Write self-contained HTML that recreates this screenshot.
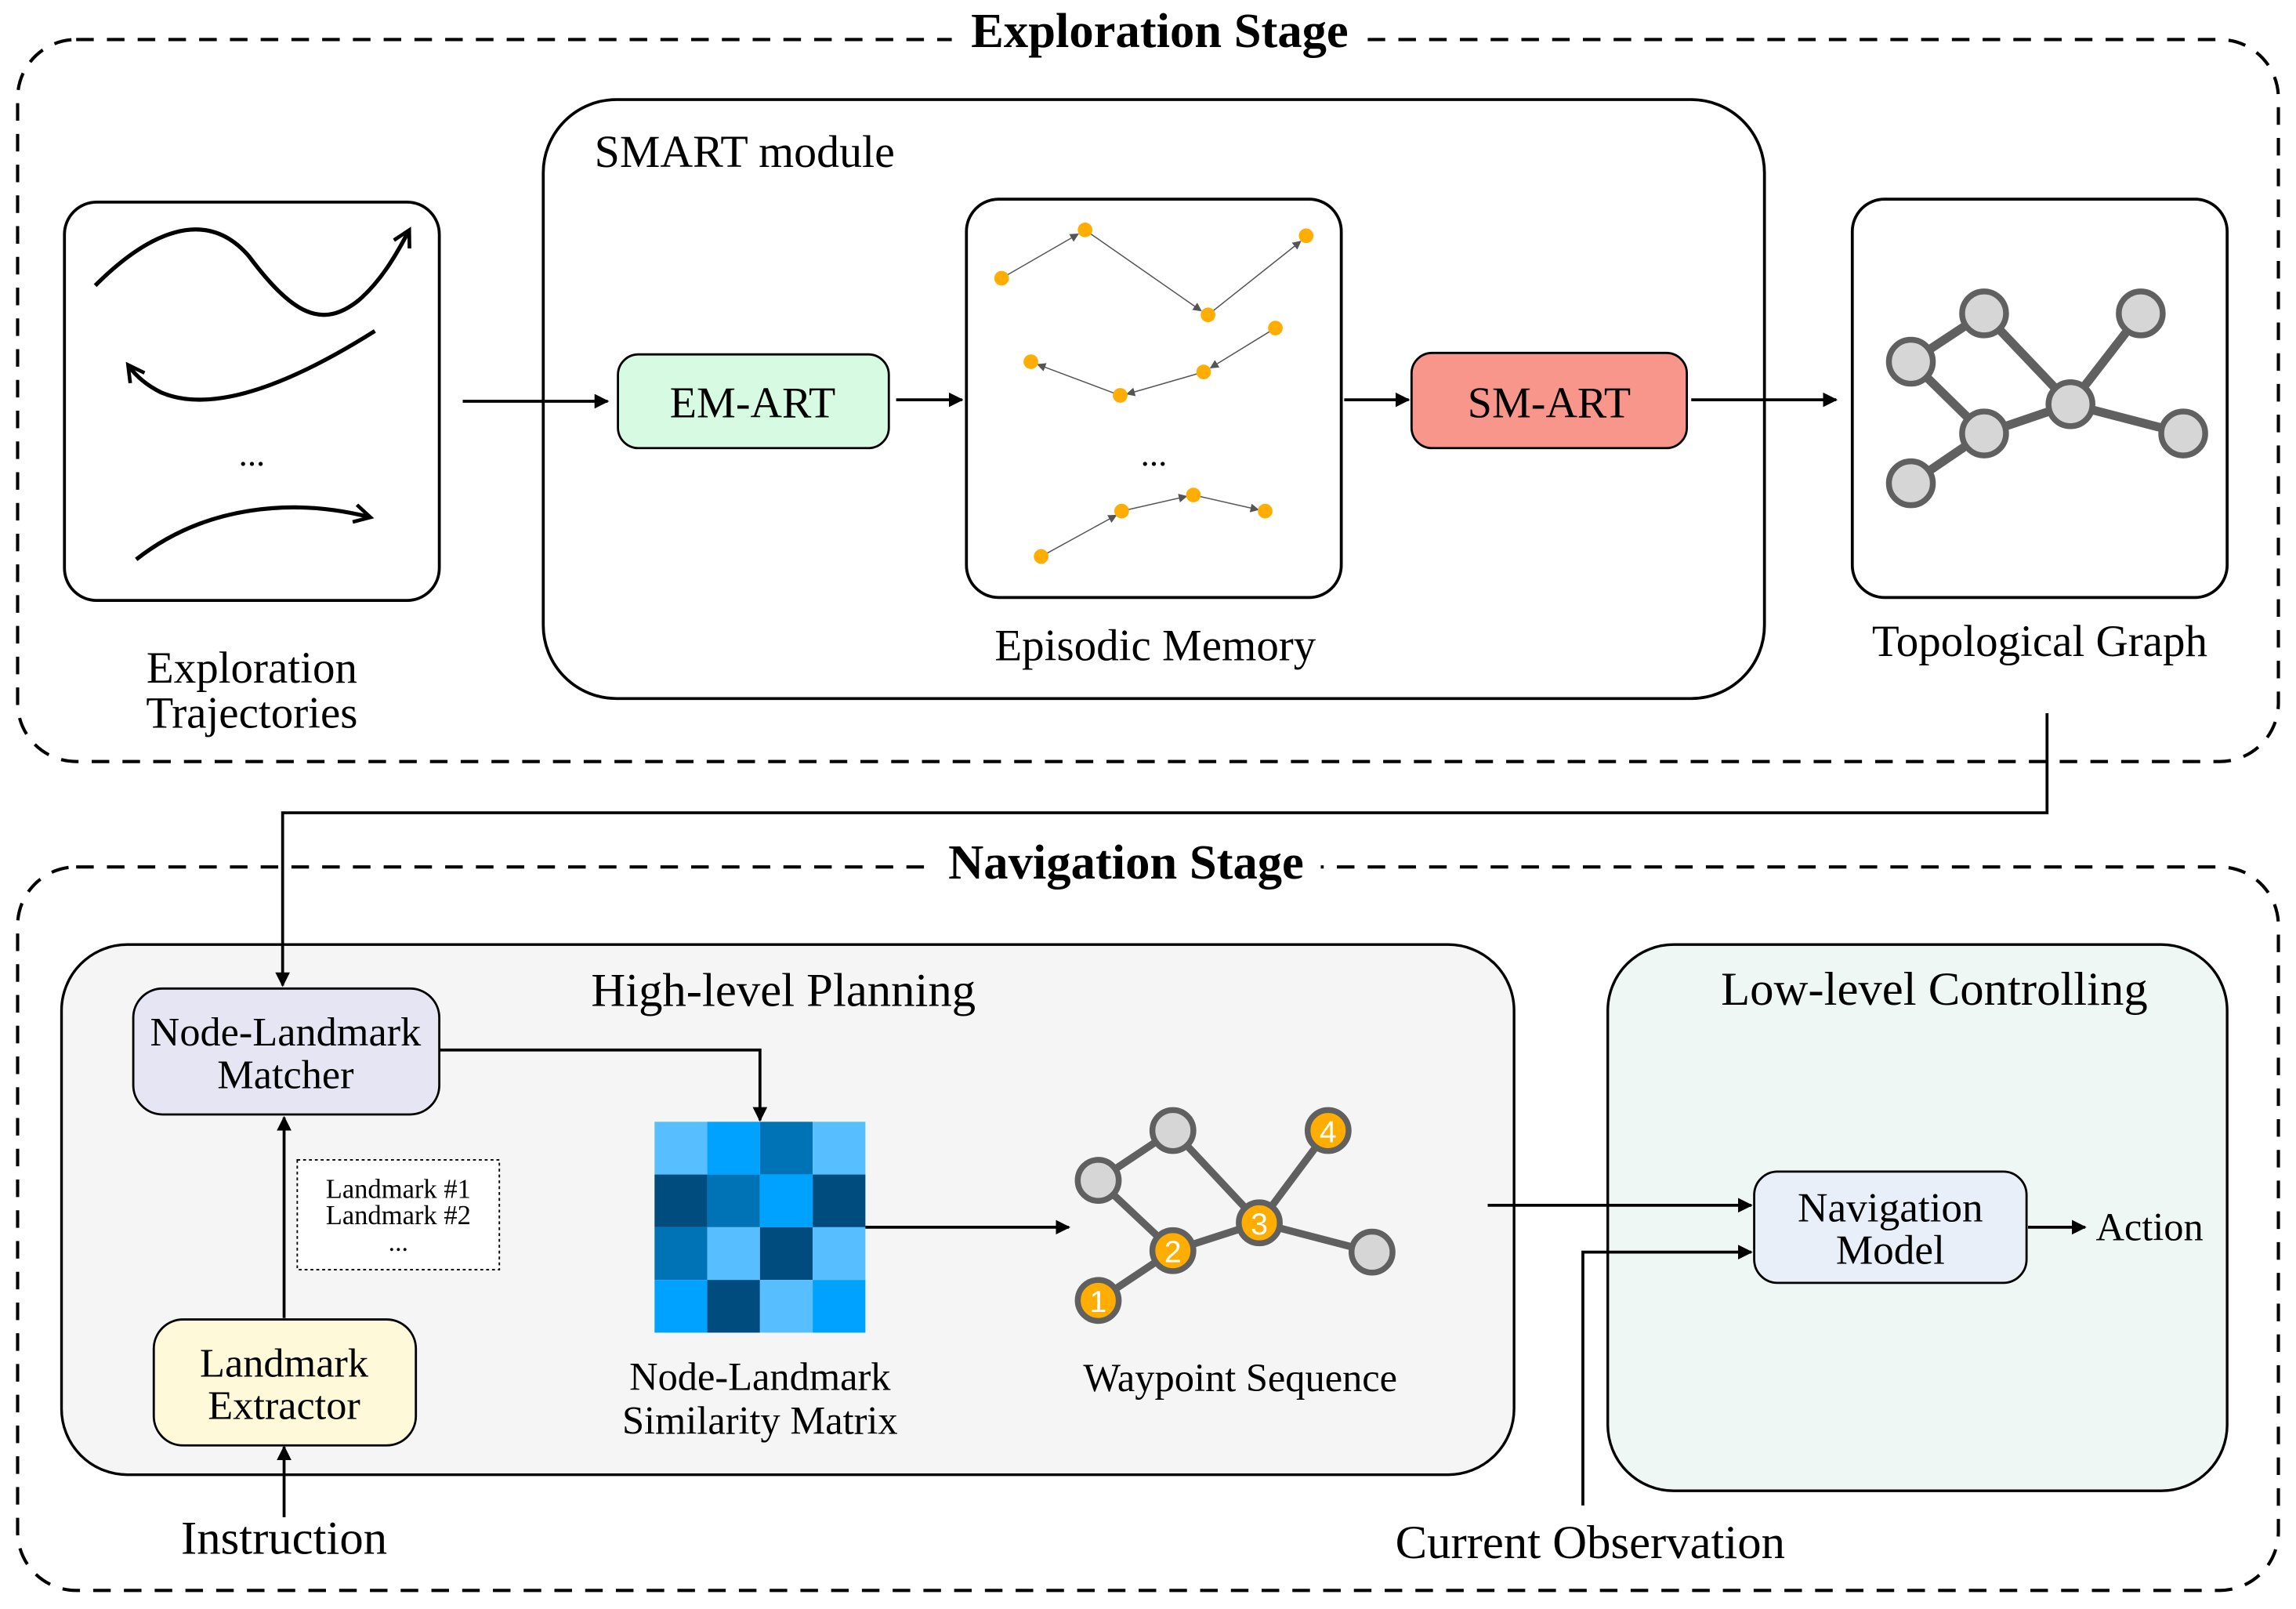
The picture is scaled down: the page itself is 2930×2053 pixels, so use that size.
<!DOCTYPE html>
<html><head><meta charset="utf-8"><style>html,body{margin:0;padding:0;background:#fff}svg{display:block}text{font-family:"Liberation Serif",serif;fill:#000}</style></head>
<body>
<svg width="2930" height="2053" viewBox="0 0 1568 1098.7" xmlns="http://www.w3.org/2000/svg">
<defs>
<marker id="ah" markerWidth="10" markerHeight="10" refX="9" refY="5" orient="auto" markerUnits="userSpaceOnUse"><path d="M0,0 L10,5 L0,10 z" fill="#000"/></marker>
<marker id="sa" markerWidth="6" markerHeight="6" refX="5" refY="3" orient="auto" markerUnits="userSpaceOnUse"><path d="M0,0 L6,3 L0,6 z" fill="#555"/></marker>
<marker id="ta" markerWidth="16" markerHeight="14" refX="12" refY="7" orient="auto" markerUnits="userSpaceOnUse"><path d="M2,1 L13,7 L2,13" fill="none" stroke="#000" stroke-width="2.5"/></marker>
</defs>
<g fill="none" stroke="#000" stroke-width="2.2" stroke-dasharray="12,9">
<rect x="12" y="27" width="1544" height="493" rx="40"/>
<rect x="12" y="592" width="1544" height="494" rx="40"/>
</g>
<rect x="650" y="5" width="284" height="36" fill="#fff"/>
<text x="792" y="32" font-size="33.5" font-weight="bold" text-anchor="middle">Exploration Stage</text>
<rect x="636" y="572" width="266" height="36" fill="#fff"/>
<text x="769" y="600" font-size="33.5" font-weight="bold" text-anchor="middle">Navigation Stage</text>

<g fill="#fff" stroke="#000" stroke-width="2">
<rect x="44" y="138" width="256" height="272" rx="22"/>
<rect x="371" y="68" width="834" height="409" rx="50"/>
<rect x="660" y="136" width="256" height="272" rx="22"/>
<rect x="1265" y="136" width="256" height="272" rx="22"/>
</g>
<text x="406" y="114" font-size="31">SMART module</text>
<rect x="422" y="242" width="185" height="64" rx="14" fill="#d6fbe2" stroke="#000" stroke-width="1.5"/>
<text x="514" y="285" font-size="30" text-anchor="middle">EM-ART</text>
<rect x="964" y="241" width="188" height="65" rx="14" fill="#f9968b" stroke="#000" stroke-width="1.5"/>
<text x="1058" y="285" font-size="30" text-anchor="middle">SM-ART</text>

<g stroke="#000" stroke-width="2" fill="none" marker-end="url(#ah)">
<line x1="316" y1="274" x2="415" y2="274"/>
<line x1="612" y1="273" x2="657" y2="273"/>
<line x1="918" y1="273" x2="962" y2="273"/>
<line x1="1155" y1="273" x2="1254" y2="273"/>
</g>

<!-- trajectories -->
<g fill="none" stroke="#000" stroke-width="2.8" marker-end="url(#ta)">
<path d="M65,195 C100,160 140,140 170,175 C200,215 220,225 245,205 C260,192 270,175 279,158"/>
<path d="M256,226 C210,255 150,285 110,268 C100,263 93,257 88,250"/>
<path d="M93,382 C140,345 200,340 252,353"/>
</g>
<text x="172" y="318" font-size="24" text-anchor="middle">...</text>
<text x="172" y="466" font-size="30.5" text-anchor="middle">Exploration</text>
<text x="172" y="497" font-size="30.5" text-anchor="middle">Trajectories</text>
<text x="789" y="451" font-size="30.5" text-anchor="middle">Episodic Memory</text>
<text x="1393" y="448" font-size="30.5" text-anchor="middle">Topological Graph</text>

<!-- episodic memory -->
<g stroke="#555" stroke-width="0.8" fill="none" marker-end="url(#sa)">
<line x1="684" y1="190" x2="736" y2="160"/>
<line x1="741" y1="157" x2="820" y2="212"/>
<line x1="825" y1="215" x2="888" y2="165"/>
<line x1="871" y1="224" x2="827" y2="251"/>
<line x1="822" y1="254" x2="770" y2="269"/>
<line x1="765" y1="270" x2="709" y2="249"/>
<line x1="711" y1="380" x2="762" y2="352"/>
<line x1="766" y1="349" x2="810" y2="339"/>
<line x1="815" y1="338" x2="859" y2="348"/>
</g>
<g fill="#ffad00">
<circle cx="684" cy="190" r="5"/><circle cx="741" cy="157" r="5"/><circle cx="825" cy="215" r="5"/><circle cx="892" cy="161" r="5"/>
<circle cx="704" cy="247" r="5"/><circle cx="765" cy="270" r="5"/><circle cx="822" cy="254" r="5"/><circle cx="871" cy="224" r="5"/>
<circle cx="711" cy="380" r="5"/><circle cx="766" cy="349" r="5"/><circle cx="815" cy="338" r="5"/><circle cx="864" cy="349" r="5"/>
</g>
<text x="788" y="318" font-size="24" text-anchor="middle">...</text>

<!-- topo graph -->
<g stroke="#606060" stroke-width="6">
<line x1="1305" y1="247" x2="1355" y2="214"/><line x1="1355" y1="214" x2="1414" y2="276"/>
<line x1="1305" y1="247" x2="1355" y2="296"/><line x1="1355" y1="296" x2="1414" y2="276"/>
<line x1="1414" y1="276" x2="1462" y2="214"/><line x1="1414" y1="276" x2="1491" y2="296"/>
<line x1="1355" y1="296" x2="1305" y2="330"/>
</g>
<g fill="#d6d6d6" stroke="#606060" stroke-width="4">
<circle cx="1305" cy="247" r="15"/><circle cx="1355" cy="214" r="15"/><circle cx="1462" cy="214" r="15"/>
<circle cx="1414" cy="276" r="15"/><circle cx="1355" cy="296" r="15"/><circle cx="1305" cy="330" r="15"/><circle cx="1491" cy="296" r="15"/>
</g>

<!-- navigation -->
<rect x="42" y="645" width="992" height="362" rx="45" fill="#f5f5f5" stroke="#000" stroke-width="1.8"/>
<rect x="1098" y="645" width="423" height="373" rx="45" fill="#eff7f5" stroke="#000" stroke-width="1.8"/>
<text x="535" y="687" font-size="32.5" text-anchor="middle">High-level Planning</text>
<text x="1321" y="686" font-size="32.5" text-anchor="middle">Low-level Controlling</text>
<rect x="91" y="675" width="209" height="86" rx="20" fill="#e5e5f3" stroke="#000" stroke-width="1.5"/>
<text x="195" y="714" font-size="28" text-anchor="middle">Node-Landmark</text>
<text x="195" y="743" font-size="28" text-anchor="middle">Matcher</text>
<rect x="105" y="901" width="179" height="86" rx="20" fill="#fdf9d9" stroke="#000" stroke-width="1.5"/>
<text x="194" y="940" font-size="28" text-anchor="middle">Landmark</text>
<text x="194" y="969" font-size="28" text-anchor="middle">Extractor</text>
<rect x="203" y="792" width="138" height="75" fill="#fff" stroke="#000" stroke-width="1" stroke-dasharray="2,2"/>
<text x="272" y="818" font-size="18.5" text-anchor="middle">Landmark #1</text>
<text x="272" y="836" font-size="18.5" text-anchor="middle">Landmark #2</text>
<text x="272" y="854" font-size="18" text-anchor="middle">...</text>

<g>
<rect x="447" y="766" width="36" height="36" fill="#57bfff"/><rect x="483" y="766" width="36" height="36" fill="#00a2ff"/><rect x="519" y="766" width="36" height="36" fill="#0073b7"/><rect x="555" y="766" width="36" height="36" fill="#57bfff"/>
<rect x="447" y="802" width="36" height="36" fill="#004c7e"/><rect x="483" y="802" width="36" height="36" fill="#0073b7"/><rect x="519" y="802" width="36" height="36" fill="#00a2ff"/><rect x="555" y="802" width="36" height="36" fill="#004c7e"/>
<rect x="447" y="838" width="36" height="36" fill="#0073b7"/><rect x="483" y="838" width="36" height="36" fill="#57bfff"/><rect x="519" y="838" width="36" height="36" fill="#004c7e"/><rect x="555" y="838" width="36" height="36" fill="#57bfff"/>
<rect x="447" y="874" width="36" height="36" fill="#00a2ff"/><rect x="483" y="874" width="36" height="36" fill="#004c7e"/><rect x="519" y="874" width="36" height="36" fill="#57bfff"/><rect x="555" y="874" width="36" height="36" fill="#00a2ff"/>
</g>
<text x="519" y="949" font-size="27" text-anchor="middle">Node-Landmark</text>
<text x="519" y="979" font-size="27" text-anchor="middle">Similarity Matrix</text>
<text x="847" y="950" font-size="27" text-anchor="middle">Waypoint Sequence</text>

<g stroke="#606060" stroke-width="5">
<line x1="750" y1="806" x2="801" y2="772"/><line x1="801" y1="772" x2="860" y2="835"/>
<line x1="750" y1="806" x2="801" y2="854"/><line x1="801" y1="854" x2="860" y2="835"/>
<line x1="860" y1="835" x2="907" y2="772"/><line x1="860" y1="835" x2="937" y2="855"/>
<line x1="801" y1="854" x2="750" y2="888"/>
</g>
<g stroke="#606060" stroke-width="4">
<circle cx="750" cy="806" r="14" fill="#d6d6d6"/><circle cx="801" cy="772" r="14" fill="#d6d6d6"/><circle cx="937" cy="855" r="14" fill="#d6d6d6"/>
<circle cx="907" cy="772" r="14" fill="#ffad00"/><circle cx="860" cy="835" r="14" fill="#ffad00"/><circle cx="801" cy="854" r="14" fill="#ffad00"/><circle cx="750" cy="888" r="14" fill="#ffad00"/>
</g>
<g font-size="21" text-anchor="middle">
<text x="907" y="780" style="fill:#fff;font-family:'Liberation Sans',sans-serif">4</text>
<text x="860" y="843" style="fill:#fff;font-family:'Liberation Sans',sans-serif">3</text>
<text x="801" y="862" style="fill:#fff;font-family:'Liberation Sans',sans-serif">2</text>
<text x="750" y="896" style="fill:#fff;font-family:'Liberation Sans',sans-serif">1</text>
</g>

<rect x="1198" y="800" width="186" height="76" rx="16" fill="#e8eff9" stroke="#000" stroke-width="1.5"/>
<text x="1291" y="834" font-size="28.5" text-anchor="middle">Navigation</text>
<text x="1291" y="863" font-size="28.5" text-anchor="middle">Model</text>
<text x="1468" y="847" font-size="27" text-anchor="middle">Action</text>
<text x="194" y="1061" font-size="32.5" text-anchor="middle">Instruction</text>
<text x="1086" y="1064" font-size="32.5" text-anchor="middle">Current Observation</text>

<g stroke="#000" stroke-width="2" fill="none" marker-end="url(#ah)">
<polyline points="1398,487 1398,555 193,555 193,673"/>
<polyline points="300,717 519,717 519,765"/>
<line x1="591" y1="838" x2="730" y2="838"/>
<line x1="194" y1="900" x2="194" y2="763"/>
<line x1="194" y1="1036" x2="194" y2="988"/>
<line x1="1016" y1="823" x2="1196" y2="823"/>
<polyline points="1081,1028 1081,855 1196,855"/>
<line x1="1385" y1="838" x2="1424" y2="838"/>
</g>
</svg>
</body></html>
